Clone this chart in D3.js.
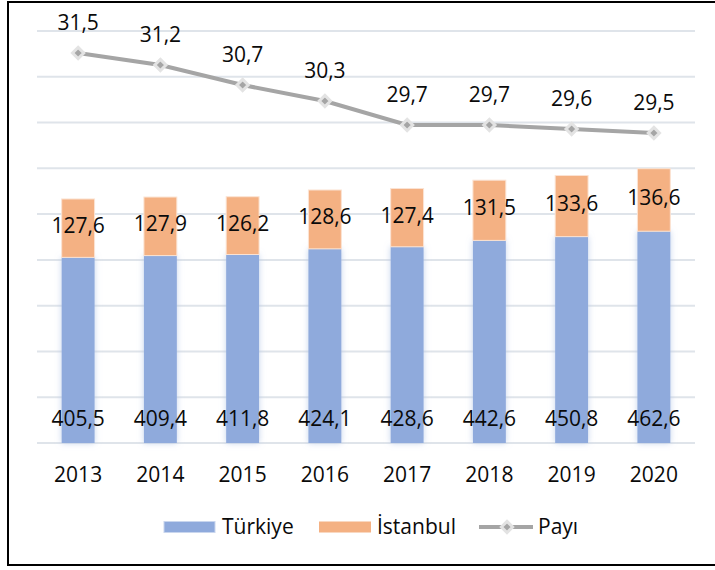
<!DOCTYPE html>
<html>
<head>
<meta charset="utf-8">
<script src="https://cdn.jsdelivr.net/npm/d3@7"></script>
<style>
  body { margin: 0; background: #fff; }
  svg text { font-family: "Open Sans", sans-serif; fill: #0a0a0a; }
</style>
</head>
<body>
<div id="chart"></div>
<script>
// data
const years = ['2013', '2014', '2015', '2016', '2017', '2018', '2019', '2020'];
const turkiye = [405.5, 409.4, 411.8, 424.1, 428.6, 442.6, 450.8, 462.6];
const istanbul = [127.6, 127.9, 126.2, 128.6, 127.4, 131.5, 133.6, 136.6];
const payi = [31.5, 31.2, 30.7, 30.3, 29.7, 29.7, 29.6, 29.5];
const barTicks = [0, 100, 200, 300, 400, 500, 600, 700, 800, 900];

const W = 715, H = 570;
const FS = 21;
const fmt = v => v.toFixed(1).replace('.', ',');

const svg = d3.select('#chart').append('svg')
    .attr('width', W).attr('height', H);

// soft glow behind the blue bars
const defs = svg.append('defs');
const glow = defs.append('filter').attr('id', 'glow')
    .attr('x', '-40%').attr('y', '-10%').attr('width', '180%').attr('height', '120%');
glow.append('feGaussianBlur').attr('in', 'SourceAlpha').attr('stdDeviation', 3).attr('result', 'b');
glow.append('feFlood').attr('flood-color', '#b4c7e7').attr('flood-opacity', 0.8);
glow.append('feComposite').attr('in2', 'b').attr('operator', 'in').attr('result', 's');
const mg = glow.append('feMerge');
mg.append('feMergeNode').attr('in', 's');
mg.append('feMergeNode').attr('in', 'SourceGraphic');

// outer frame (no right side)
svg.append('path')
    .attr('d', `M${W},2 L8,2 L8,565 L${W},565`)
    .attr('fill', 'none').attr('stroke', '#000').attr('stroke-width', 2);

const plotL = 37, plotR = 695, plotT = 31, plotB = 443;

const x = d3.scaleBand().domain(years).range([plotL, plotR]).paddingInner(0.6).paddingOuter(0.3);
const y = d3.scaleLinear().domain([0, 900]).range([plotB, plotT]);
const y2 = d3.scaleLinear().domain([21.75, 32.05]).range([plotB, plotT]);

// gridlines
svg.append('g')
  .selectAll('line').data(barTicks).join('line')
    .attr('x1', plotL).attr('x2', plotR)
    .attr('y1', d => y(d)).attr('y2', d => y(d))
    .attr('stroke', '#dfe4ea').attr('stroke-width', 2);

// stacked bars
const stackData = years.map((yr, i) => ({ year: yr, t: turkiye[i], s: istanbul[i] }));

svg.append('g').attr('filter', 'url(#glow)')
  .selectAll('rect').data(stackData).join('rect')
    .attr('x', d => x(d.year)).attr('width', x.bandwidth())
    .attr('y', d => y(d.t)).attr('height', d => y(0) - y(d.t))
    .attr('fill', '#8faadc');

svg.append('g')
  .selectAll('rect').data(stackData).join('rect')
    .attr('x', d => x(d.year)).attr('width', x.bandwidth())
    .attr('y', d => y(d.t + d.s)).attr('height', d => y(d.t) - y(d.t + d.s))
    .attr('fill', '#f4b183').attr('stroke', '#fbe3d3').attr('stroke-width', 1);

// bar labels
svg.append('g')
  .selectAll('text').data(stackData).join('text')
    .attr('x', d => x(d.year) + x.bandwidth() / 2)
    .attr('y', plotB - 17)
    .attr('text-anchor', 'middle').attr('font-size', FS)
    .text(d => fmt(d.t));

svg.append('g')
  .selectAll('text').data(stackData).join('text')
    .attr('x', d => x(d.year) + x.bandwidth() / 2)
    .attr('y', d => (y(d.t) + y(d.t + d.s)) / 2 + 5)
    .attr('text-anchor', 'middle').attr('font-size', FS)
    .text(d => fmt(d.s));

// x axis labels
const xAxis = svg.append('g')
    .attr('transform', `translate(0,${plotB})`)
    .call(d3.axisBottom(x).tickSize(0).tickPadding(24));
xAxis.select('.domain').remove();
xAxis.selectAll('text').attr('font-size', FS).attr('font-family', '"Open Sans", sans-serif').attr('fill', '#0a0a0a');

// Payı line
const cx = i => x(years[i]) + x.bandwidth() / 2;
const line = d3.line().x((d, i) => cx(i)).y(d => y2(d));
svg.append('path').datum(payi)
    .attr('d', line).attr('fill', 'none')
    .attr('stroke', '#a5a5a5').attr('stroke-width', 4);

const diamond = d3.symbol().type(d3.symbolDiamond2);
svg.append('g')
  .selectAll('path').data(payi).join('path')
    .attr('transform', (d, i) => `translate(${cx(i)},${y2(d)})`)
    .attr('d', diamond.size(80))
    .attr('fill', '#a5a5a5').attr('stroke', '#e3e3e3').attr('stroke-width', 3);

svg.append('g')
  .selectAll('text').data(payi).join('text')
    .attr('x', (d, i) => cx(i))
    .attr('y', d => y2(d) - 23)
    .attr('text-anchor', 'middle').attr('font-size', FS)
    .text(d => fmt(d));

// legend
const lg = svg.append('g').attr('transform', 'translate(0,527)');
lg.append('rect').attr('x', 164).attr('y', -5.5).attr('width', 51).attr('height', 11)
    .attr('fill', '#8faadc').attr('stroke', '#c9d6ee').attr('stroke-width', 1);
lg.append('text').attr('x', 222).attr('y', 7).attr('font-size', FS).text('Türkiye');
lg.append('rect').attr('x', 319).attr('y', -5.5).attr('width', 52).attr('height', 11)
    .attr('fill', '#f4b183');
lg.append('text').attr('x', 377).attr('y', 7).attr('font-size', FS).text('İstanbul');
lg.append('line').attr('x1', 479).attr('x2', 533).attr('y1', 0).attr('y2', 0)
    .attr('stroke', '#a5a5a5').attr('stroke-width', 4);
lg.append('path').attr('transform', 'translate(507,0)').attr('d', diamond.size(80))
    .attr('fill', '#a5a5a5').attr('stroke', '#e3e3e3').attr('stroke-width', 3);
lg.append('text').attr('x', 538).attr('y', 7).attr('font-size', FS).text('Payı');
</script>
</body>
</html>
